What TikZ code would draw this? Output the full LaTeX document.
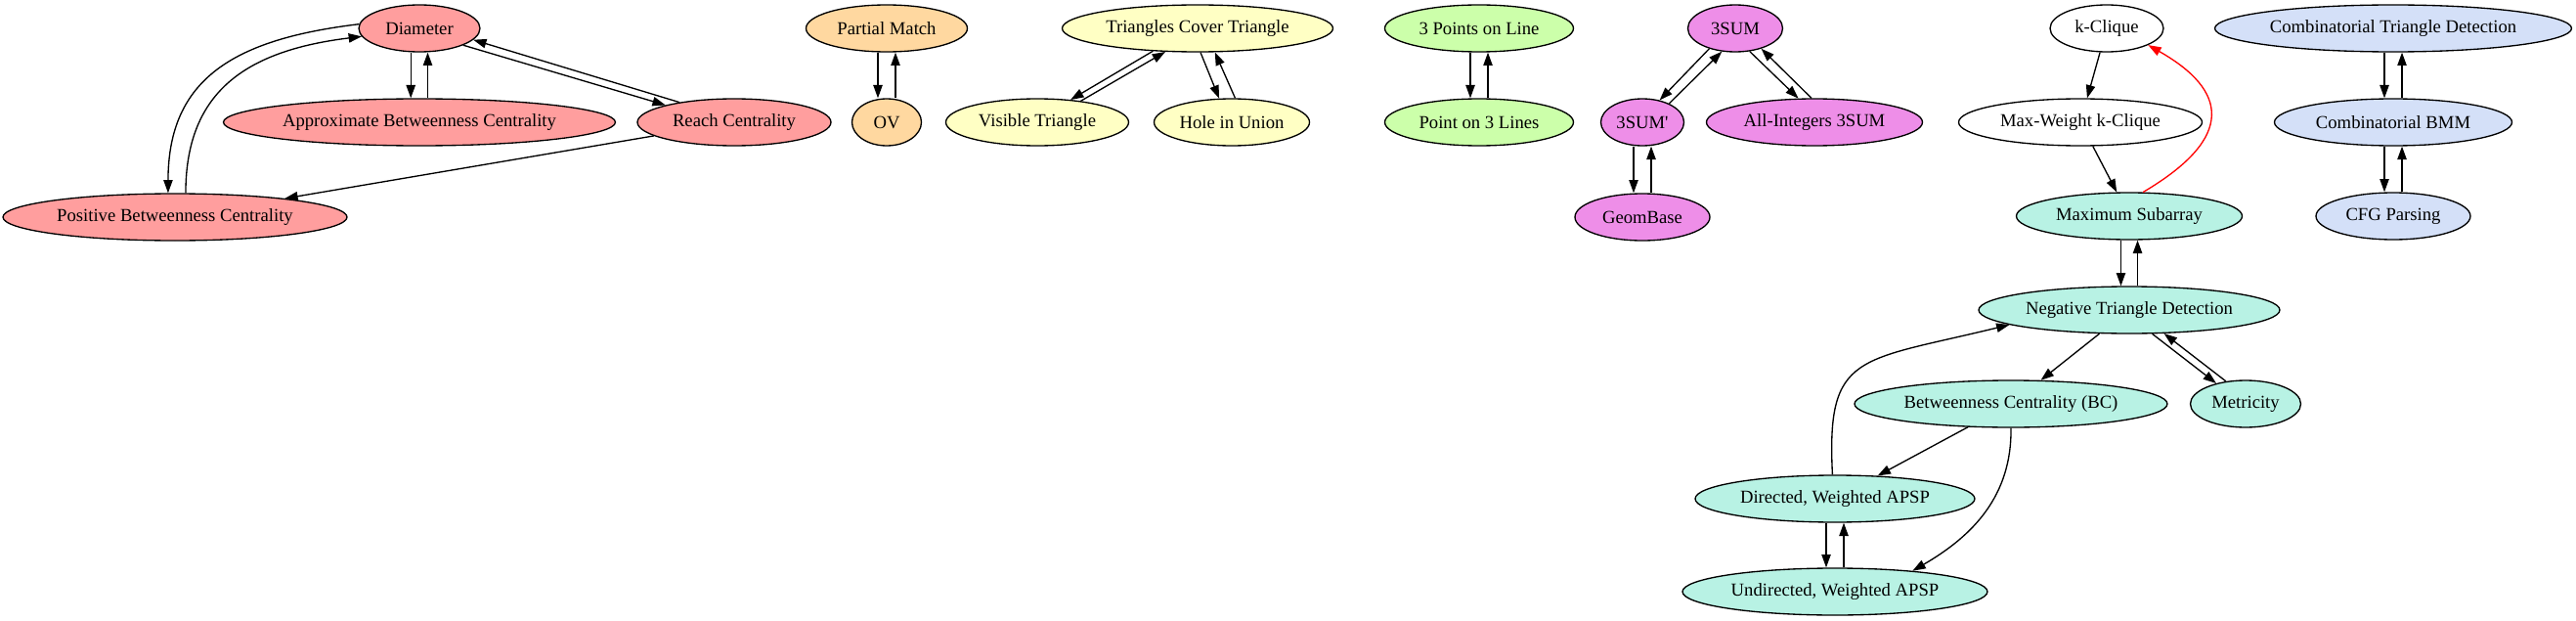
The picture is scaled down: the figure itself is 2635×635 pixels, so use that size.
\documentclass[tikz,border=0pt]{standalone}
\usepackage{fontspec}
\setmainfont{Liberation Serif}[Ligatures=TeXOff]
\usetikzlibrary{shapes.geometric,arrows.meta}
\definecolor{cred}{HTML}{FF9E9E}
\definecolor{corange}{HTML}{FFD8A0}
\definecolor{cyellow}{HTML}{FFFFC4}
\definecolor{cgreen}{HTML}{CCFFAA}
\definecolor{cpurple}{HTML}{EE8EE8}
\definecolor{cteal}{HTML}{B8F2E4}
\definecolor{cblue}{HTML}{D4E0F8}
\begin{document}
\begin{tikzpicture}[x=0.75pt,y=0.75pt,
  gv/.style={ellipse,draw,line width=1pt,minimum height=36pt,inner sep=0pt,
    font=\fontsize{14pt}{16pt}\selectfont},
  nw/.style={minimum width=#1*0.75pt},
  e/.style={-{Triangle[length=10pt,width=7pt]},line width=1pt},
]
\useasboundingbox (0,0) rectangle (2635,-635);
% red group
\node[gv,nw=124,fill=cred] (dia) at (429,-29) {Diameter};
\node[gv,nw=401,fill=cred] (abc) at (429,-125) {Approximate Betweenness Centrality};
\node[gv,nw=198,fill=cred] (reach) at (751,-125) {Reach Centrality};
\node[gv,nw=352,fill=cred] (pbc) at (179,-222) {Positive Betweenness Centrality};
% orange
\node[gv,nw=165,fill=corange] (pm) at (907,-29) {Partial Match};
\node[gv,nw=71,fill=corange] (ov) at (907,-125) {OV};
% yellow
\node[gv,nw=277,fill=cyellow] (tct) at (1225,-29) {Triangles Cover Triangle};
\node[gv,nw=187,fill=cyellow] (vt) at (1061,-125) {Visible Triangle};
\node[gv,nw=159,fill=cyellow] (hiu) at (1260,-125) {Hole in Union};
% green
\node[gv,nw=193,fill=cgreen] (p3l) at (1513,-29) {3 Points on Line};
\node[gv,nw=193,fill=cgreen] (po3) at (1513,-125) {Point on 3 Lines};
% purple
\node[gv,nw=97,fill=cpurple] (s3) at (1775,-29) {3SUM};
\node[gv,nw=85,fill=cpurple] (s3p) at (1680,-125) {3SUM'};
\node[gv,nw=221,fill=cpurple] (ai) at (1856,-125) {All-Integers 3SUM};
\node[gv,nw=138,fill=cpurple] (gb) at (1680,-222) {GeomBase};
% white
\node[gv,nw=116,fill=white] (kc) at (2155,-29) {k-Clique};
\node[gv,nw=249,fill=white] (mw) at (2128,-125) {Max-Weight k-Clique};
% teal
\node[gv,nw=231,fill=cteal] (ms) at (2178,-221) {Maximum Subarray};
\node[gv,nw=308,fill=cteal] (ntd) at (2178,-317) {Negative Triangle Detection};
\node[gv,nw=320,fill=cteal] (bc) at (2057,-413) {Betweenness Centrality (BC)};
\node[gv,nw=113,fill=cteal] (met) at (2297,-413) {Metricity};
\node[gv,nw=286,fill=cteal] (dir) at (1877,-510) {Directed, Weighted APSP};
\node[gv,nw=312,fill=cteal] (ud) at (1877,-605) {Undirected, Weighted APSP};
% blue
\node[gv,nw=365,fill=cblue] (ctd) at (2448,-29) {Combinatorial Triangle Detection};
\node[gv,nw=243,fill=cblue] (cbmm) at (2448,-125) {Combinatorial BMM};
\node[gv,nw=158,fill=cblue] (cfg) at (2448,-221) {CFG Parsing};

% red edges
\draw[e] ([xshift=-6.6pt]dia.south) -- ([xshift=-6.6pt]abc.north);
\draw[e] ([xshift=6.4pt]abc.north) -- ([xshift=6.4pt]dia.south);
\draw[e] (dia.176) .. controls (240,-40) and (172,-80) .. (pbc.106);
\draw[e] (pbc.66) .. controls (190,-95) and (250,-52) .. (dia.188);
\draw[e] (dia.339) -- (reach.166);
\draw[e] (reach.160) -- (dia.348);
\draw[e] (reach) -- (pbc);
% orange edges
\draw[e] ([xshift=-6.75pt]pm.south) -- ([xshift=-6.75pt]ov.north);
\draw[e] ([xshift=6.75pt]ov.north) -- ([xshift=6.75pt]pm.south);
% yellow edges
\draw[e] (tct.207) -- (vt.34);
\draw[e] (vt.26) -- (tct.216);
\draw[e] (tct.277) -- (hiu.118);
\draw[e] (hiu.82) -- (tct.306);
% green edges
\draw[e] ([xshift=-6.75pt]p3l.south) -- ([xshift=-6.75pt]po3.north);
\draw[e] ([xshift=6.75pt]po3.north) -- ([xshift=6.75pt]p3l.south);
% purple edges
\draw[e] (s3.218) -- (s3p.52);
\draw[e] (s3p.35) -- (s3.240);
\draw[e] (s3.302) -- (ai.124);
\draw[e] (ai.97) -- (s3.322);
\draw[e] ([xshift=-6.75pt]s3p.south) -- ([xshift=-6.75pt]gb.north);
\draw[e] ([xshift=6.75pt]gb.north) -- ([xshift=6.75pt]s3p.south);
% white edges
\draw[e] (kc) -- (mw);
\draw[e] (mw) -- (ms);
\draw[e,red] (ms.60) .. controls (2288,-140) and (2278,-92) .. (kc.338);
% blue edges
\draw[e] ([xshift=-6.75pt]ctd.south) -- ([xshift=-6.75pt]cbmm.north);
\draw[e] ([xshift=6.75pt]cbmm.north) -- ([xshift=6.75pt]ctd.south);
\draw[e] ([xshift=-6.75pt]cbmm.south) -- ([xshift=-6.75pt]cfg.north);
\draw[e] ([xshift=6.75pt]cfg.north) -- ([xshift=6.75pt]cbmm.south);
% teal edges
\draw[e] ([xshift=-6.4pt]ms.south) -- ([xshift=-6.4pt]ntd.north);
\draw[e] ([xshift=6.4pt]ntd.north) -- ([xshift=6.4pt]ms.south);
\draw[e] (ntd) -- (bc);
\draw[e] (ntd.314) -- (met.145);
\draw[e] (met.131) -- (ntd.326);
\draw[e] (bc) -- (dir);
\draw[e] (bc.south) .. controls (2058,-507) and (2018,-548) .. (ud.15);
\draw[e] (dir.96) .. controls (1868,-360) and (1900,-370) .. (ntd.187);
\draw[e] ([xshift=-6.75pt]dir.south) -- ([xshift=-6.75pt]ud.north);
\draw[e] ([xshift=6.75pt]ud.north) -- ([xshift=6.75pt]dir.south);
\end{tikzpicture}
\end{document}
